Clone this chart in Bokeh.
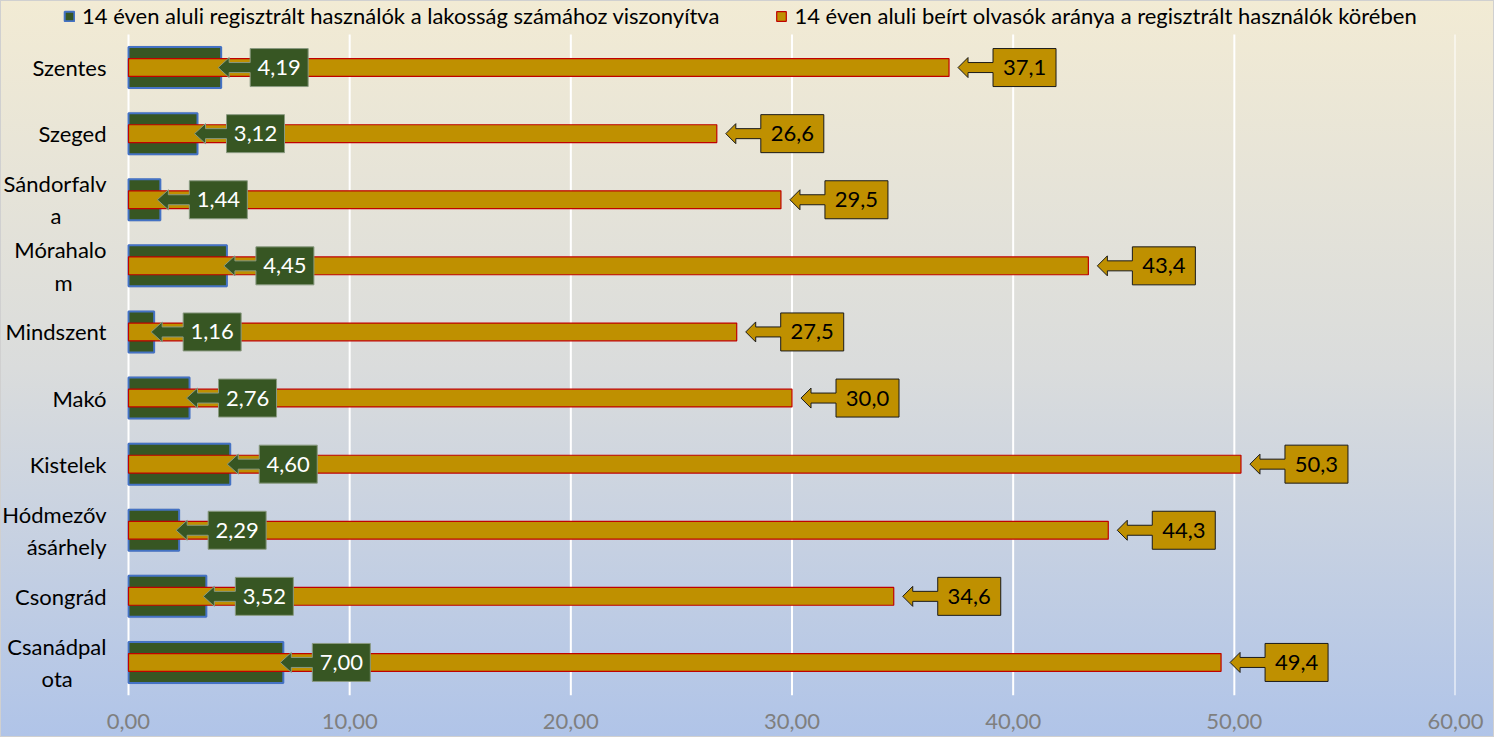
from bokeh.plotting import figure
from bokeh.models import Range1d, FixedTicker, Legend, LegendItem, ColumnDataSource
from bokeh.embed import file_html
from bokeh.resources import INLINE
from bokeh.core.properties import value

# ---- data (top to bottom) ----
cities = ["Szentes", "Szeged", "Sándorfalva", "Mórahalom", "Mindszent",
          "Makó", "Kistelek", "Hódmezővásárhely", "Csongrád", "Csanádpalota"]
NB = "\u00a0"
city_labels = ["Szentes", "Szeged", "Sándorfalv\na" + NB * 8, "Mórahalo\nm" + NB * 6, "Mindszent",
               "Makó", "Kistelek", "Hódmezőv\násárhely", "Csongrád", "Csanádpal\nota" + NB * 6]
registered = [4.19, 3.12, 1.44, 4.45, 1.16, 2.76, 4.60, 2.29, 3.52, 7.00]
readers = [37.1, 26.6, 29.5, 43.4, 27.5, 30.0, 50.3, 44.3, 34.6, 49.4]
x_ticks = [0, 10, 20, 30, 40, 50, 60]
x_tick_labels = ["0,00", "10,00", "20,00", "30,00", "40,00", "50,00", "60,00"]
series_names = ["14 éven aluli regisztrált használók a lakosság számához viszonyítva",
                "14 éven aluli beírt olvasók aránya a regisztrált használók körében"]

FONT = "Lato"
FS = "22px"
W, H = 1494, 737
LEFT_PX = 127           # space for category labels, inside the frame
TOP_PX = 33             # legend strip, inside the frame
MR, MB = 40, 43
FW, FH = W - MR, H - MB
XMAX = 60
N = len(cities)
px = XMAX / (FW - LEFT_PX)       # data units per pixel (x)
py = N / (FH - TOP_PX)           # data units per pixel (y)

ypos = [N - i - 0.5 for i in range(N)]

GREEN, BLUE, GOLD, RED = "#375623", "#4472c4", "#bf9000", "#c00000"

p = figure(width=W, height=H, output_backend="svg", toolbar_location=None,
           x_range=Range1d(-LEFT_PX * px, XMAX), y_range=Range1d(0, N + TOP_PX * py),
           min_border_left=0, min_border_right=MR, min_border_top=0, min_border_bottom=MB)
p.background_fill_alpha = 0
p.border_fill_alpha = 0
p.outline_line_color = None
p.styles = {"background": "linear-gradient(to bottom, #f2ebd4 0%, #dadcdc 50%, #b0c4e8 100%)",
            "border": "1px solid #d0d0d0"}

# x axis
p.xaxis.ticker = FixedTicker(ticks=x_ticks)
p.xaxis.major_label_overrides = {t: l for t, l in zip(x_ticks, x_tick_labels)}
p.xaxis.axis_line_color = None
p.xaxis.major_tick_line_color = None
p.xaxis.minor_tick_line_color = None
p.xaxis.major_label_text_color = "#7f7f7f"
p.xaxis.major_label_text_font = FONT
p.xaxis.major_label_text_font_size = FS
p.xaxis.major_label_standoff = 12
p.yaxis.visible = False
p.grid.grid_line_color = None

# vertical white gridlines at the x ticks, over the category rows only
p.segment(x0=x_ticks, x1=x_ticks, y0=[0] * len(x_ticks), y1=[N] * len(x_ticks),
          line_color="white", line_width=2)

# category labels
p.text(x=[-22 * px] * N, y=ypos, text=city_labels, text_color="#000000",
       text_font=value(FONT), text_font_size=FS, text_align="right", text_baseline="middle")

src = ColumnDataSource(dict(y=ypos, reg=registered, rd=readers))

# shadow of green bars
p.hbar(y="y", right="reg", left=0, height=0.66, source=src,
       fill_color="#7f7f7f", fill_alpha=0.18, line_color=None)
g1 = p.hbar(y="y", right="reg", left=0, height=0.62, source=src,
            fill_color=GREEN, line_color=BLUE, line_width=2)
g2 = p.hbar(y="y", right="rd", left=0, height=0.27, source=src,
            fill_color=GOLD, line_color=RED, line_width=1.2)

# callouts
def callout(v, yc, tip_off, head, shaft, box_w, box_h=38, head_h=20, shaft_h=10):
    tip = v + tip_off * px
    hb = tip + head * px
    bl = hb + shaft * px
    br = bl + box_w * px
    bh, hh, sh = box_h / 2 * py, head_h / 2 * py, shaft_h / 2 * py
    xs = [tip, hb, hb, bl, bl, br, br, bl, bl, hb, hb]
    ys = [yc, yc + hh, yc + sh, yc + sh, yc + bh, yc + bh, yc - bh, yc - bh, yc - sh, yc - sh, yc - hh]
    return xs, ys, (bl + br) / 2

gx, gy, gtx = [], [], []
for v, yc in zip(registered, ypos):
    xs, ys, cx = callout(v, yc, -3, 11, 21, 58)
    gx.append(xs); gy.append(ys); gtx.append(cx)
ox, oy, otx = [], [], []
for v, yc in zip(readers, ypos):
    xs, ys, cx = callout(v, yc, 9, 10, 25, 63)
    ox.append(xs); oy.append(ys); otx.append(cx)

p.patches(gx, gy, fill_color=GREEN, line_color="#8a9a80", line_width=1)
p.text(gtx, ypos, text=[f"{v:.2f}".replace(".", ",") for v in registered],
       text_color="white", text_font=value(FONT), text_font_size=FS,
       text_align="center", text_baseline="middle")
p.patches(ox, oy, fill_color=GOLD, line_color="#1a1a1a", line_width=1)
p.text(otx, ypos, text=[f"{v:.1f}".replace(".", ",") for v in readers],
       text_color="black", text_font=value(FONT), text_font_size=FS,
       text_align="center", text_baseline="middle")

legend = Legend(items=[LegendItem(label=series_names[0], renderers=[g1]),
                       LegendItem(label=series_names[1], renderers=[g2])],
                orientation="horizontal", location=(62, FH - 28),
                background_fill_alpha=0, border_line_color=None,
                label_text_font=FONT, label_text_font_size=FS, label_text_color="#000000",
                glyph_width=12, glyph_height=12, label_standoff=7, spacing=56,
                padding=0, margin=0)
p.add_layout(legend, "center")

open("out.html", "w").write(file_html(p, INLINE))
